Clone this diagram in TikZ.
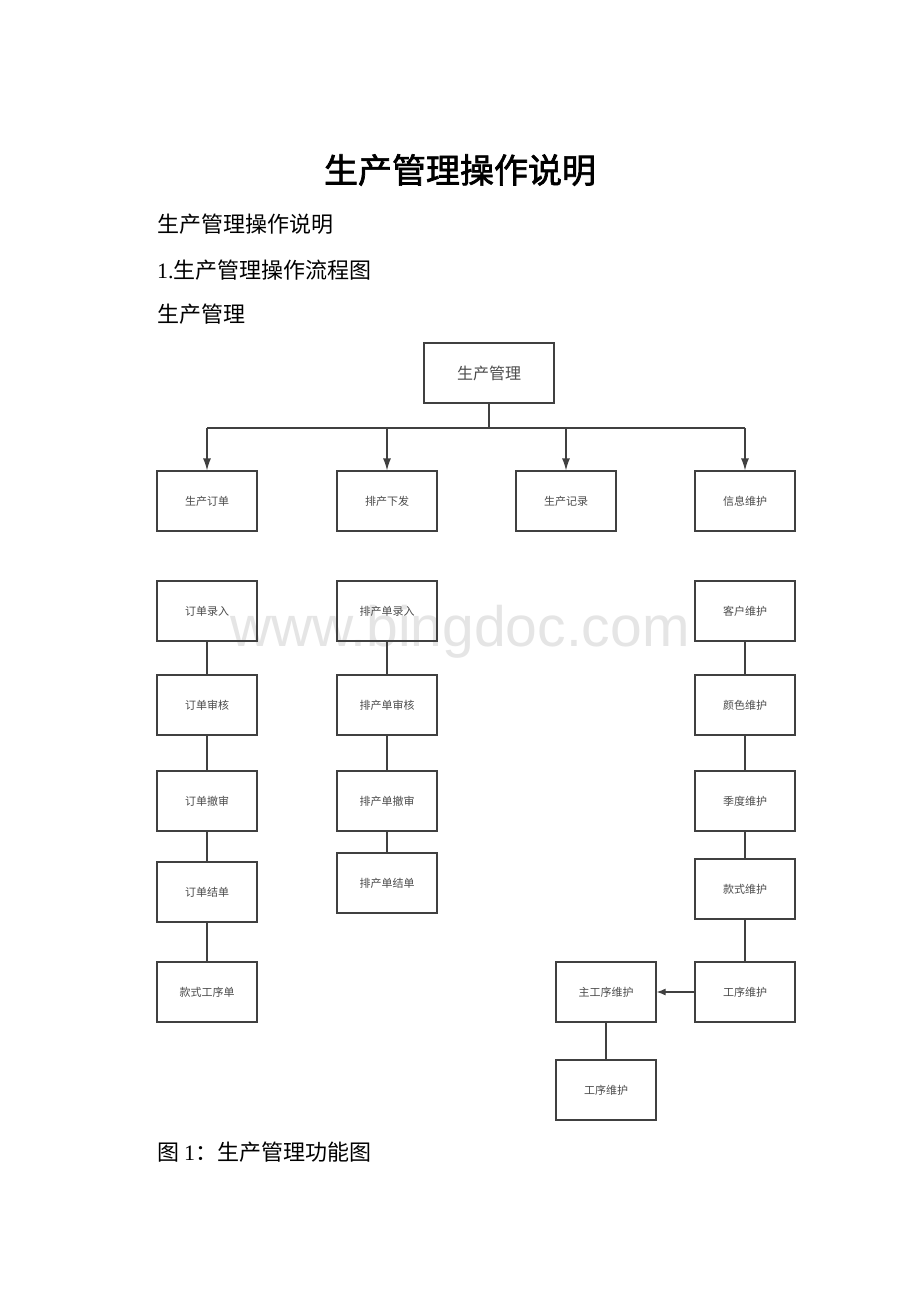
\documentclass[tikz,border=0pt]{standalone}
\usepackage{fontspec}
\setmainfont{Liberation Serif}
\newfontfamily\cjk{Noto Sans CJK SC}
\newfontfamily\cjkb[FakeBold=2]{Noto Sans CJK SC}
\usepackage{tikz}
\usetikzlibrary{arrows.meta}
\usetikzlibrary{positioning}
\tikzset{
  box/.style={draw=black!75, line width=1.2pt, minimum width=100pt, minimum height=60pt,
    inner sep=0pt, text=black!70, font=\cjk\fontsize{11}{13}\selectfont},
  link/.style={draw=black!75, line width=1.2pt},
  tip/.style={-{Latex[length=12pt,width=8pt]}}
}
\begin{document}
\begin{tikzpicture}[x=1pt, y=-1pt]
    \useasboundingbox[fill=white] (0,0) rectangle (920,1302);

    % watermark
    \node(wm) at (460,632) {\fontspec{Liberation Sans}\fontsize{57}{60}\selectfont\color{black!10}www.bingdoc.com};

    % text lines
    \node(title) at (460,170) {\cjkb\fontsize{34}{38}\selectfont 生产管理操作说明};
    \node(t1) [anchor=west, inner sep=0pt] at (157,224) {\cjk\fontsize{22}{26}\selectfont 生产管理操作说明};
    \node(t2) [anchor=west, inner sep=0pt] at (157,270) {\fontsize{22}{26}\selectfont 1.{\cjk 生产管理操作流程图}};
    \node(t3) [anchor=west, inner sep=0pt] at (157,314) {\cjk\fontsize{22}{26}\selectfont 生产管理};
    \node(cap) [anchor=west, inner sep=0pt] at (157,1152) {\cjk\fontsize{22}{26}\selectfont 图 {\rmfamily 1}：生产管理功能图};

    % top and second level
    \node(pm) [box, minimum width=130pt, font=\cjk\fontsize{16}{18}\selectfont] at (489,373) {生产管理};
    \node(dd) [box] at (207,501) {生产订单};
    \node(pc) [box] at (387,501) {排产下发};
    \node(jl) [box] at (566,501) {生产记录};
    \node(xx) [box] at (745,501) {信息维护};

    \coordinate(bus) at (489,428);
    \draw[link] (pm) -- (bus);
    \draw[link] (dd |- bus) -- (xx |- bus);
    \draw[link, tip] (dd |- bus) -- (dd);
    \draw[link, tip] (pc |- bus) -- (pc);
    \draw[link, tip] (jl |- bus) -- (jl);
    \draw[link, tip] (xx |- bus) -- (xx);

    % order column
    \node(d1) [box] at (207,611) {订单录入};
    \node(d2) [box] at (207,705) {订单审核};
    \node(d3) [box] at (207,801) {订单撤审};
    \node(d4) [box] at (207,892) {订单结单};
    \node(d5) [box] at (207,992) {款式工序单};
    \draw[link] (d1) -- (d2);
    \draw[link] (d2) -- (d3);
    \draw[link] (d3) -- (d4);
    \draw[link] (d4) -- (d5);

    % schedule column
    \node(p1) [box] at (387,611) {排产单录入};
    \node(p2) [box] at (387,705) {排产单审核};
    \node(p3) [box] at (387,801) {排产单撤审};
    \node(p4) [box] at (387,883) {排产单结单};
    \draw[link] (p1) -- (p2);
    \draw[link] (p2) -- (p3);
    \draw[link] (p3) -- (p4);

    % info column
    \node(x1) [box] at (745,611) {客户维护};
    \node(x2) [box] at (745,705) {颜色维护};
    \node(x3) [box] at (745,801) {季度维护};
    \node(x4) [box] at (745,889) {款式维护};
    \node(x5) [box] at (745,992) {工序维护};
    \node(zg) [box] at (606,992) {主工序维护};
    \node(gx) [box] at (606,1090) {工序维护};
    \draw[link] (x1) -- (x2);
    \draw[link] (x2) -- (x3);
    \draw[link] (x3) -- (x4);
    \draw[link] (x4) -- (x5);
    \draw[link, -{Latex[length=9pt,width=7pt]}] (x5) -- (zg);
    \draw[link] (zg) -- (gx);
\end{tikzpicture}
\end{document}
